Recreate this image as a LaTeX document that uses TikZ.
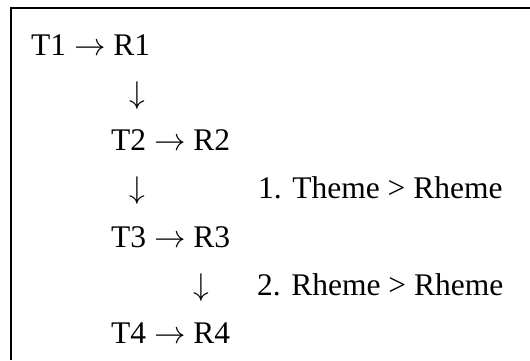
\RequirePackage{fix-cm}
\documentclass[tikz,border=0pt]{standalone}
\usepackage{fontspec}
\setmainfont{Liberation Serif}
\usepackage{tikz}
\usetikzlibrary{positioning}

\begin{document}
\begin{tikzpicture}[x=1pt, y=-1pt,
        txt/.style={anchor=base west, inner sep=0pt, font=\fontsize{31.5}{38}\selectfont},
        down/.style={txt, anchor=base}]

            \fill[white] (0,0) rectangle (530,360);
            \useasboundingbox (0,0) rectangle (530,360);

            % frame (only top and left edges show)
            \draw[line width=1.8pt] (11,360) -- (11,8) -- (530,8);

            \node[txt] (row1) at (31,55) {T1 $\rightarrow$ R1};
            \node[down] (down1) at (137,103) {$\downarrow$};
            \node[txt] (row2) at (111,150) {T2 $\rightarrow$ R2};
            \node[down] (down2) at (137,198) {$\downarrow$};
            \node[txt] (row3) at (111,247) {T3 $\rightarrow$ R3};
            \node[down] (down3) at (201,295) {$\downarrow$};
            \node[txt] (row4) at (111,343) {T4 $\rightarrow$ R4};

            % notes
            \node[txt] (note1) at (258,198) {1. Theme > Rheme};
            \node[txt] (note2) at (257,295) {2. Rheme > Rheme};

        \end{tikzpicture}
\end{document}
